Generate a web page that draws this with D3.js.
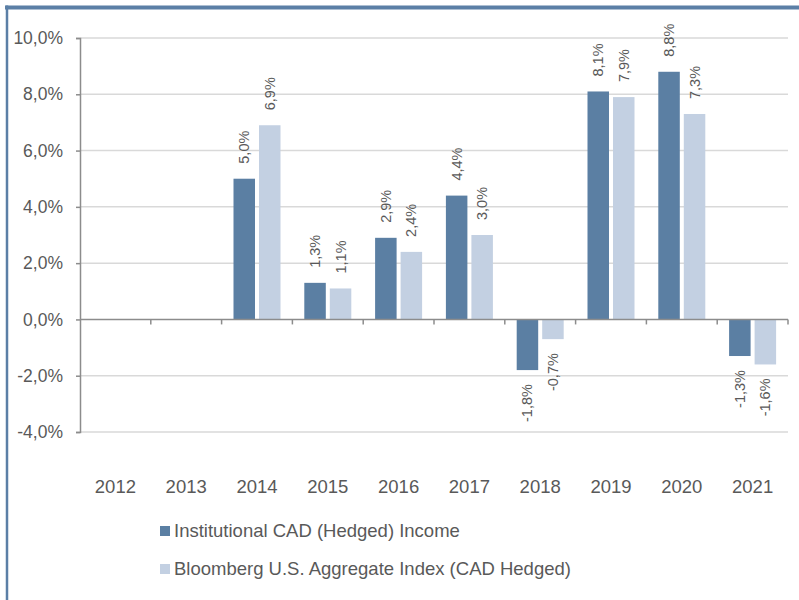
<!DOCTYPE html>
<html lang="en">
<head>
    <meta charset="UTF-8">
    <script src="https://d3js.org/d3.v7.min.js"></script>
    <title>Institutional CAD (Hedged) Income</title>
    <style>
        body {
            margin: 0;
            font-family: "Liberation Sans", Arial, sans-serif;
        }
        svg {
            font-family: "Liberation Sans", Arial, sans-serif;
        }
        .grid line {
            stroke: #d9d9d9;
            stroke-width: 1.5;
        }
        .axis text {
            fill: #595959;
        }
        .val-label {
            font-size: 14.5px;
            fill: #595959;
        }
    </style>
</head>
<body>
    <div id="chart"></div>

    <script>
        // Dimensions
        const width = 799;
        const height = 600;
        const margin = { top: 38, right: 11, bottom: 168, left: 80 };

        // Données
        const annees = ["2012", "2013", "2014", "2015", "2016", "2017", "2018", "2019", "2020", "2021"];
        const fonds = [null, null, 5.0, 1.3, 2.9, 4.4, -1.8, 8.1, 8.8, -1.3];
        const indice = [null, null, 6.9, 1.1, 2.4, 3.0, -0.7, 7.9, 7.3, -1.6];
        const series = ["Institutional CAD (Hedged) Income", "Bloomberg U.S. Aggregate Index (CAD Hedged)"];
        const yTicks = [-4, -2, 0, 2, 4, 6, 8, 10];
        const couleurs = ["#5b7fa3", "#c3d0e2"];

        const svg = d3.select("#chart")
            .append("svg")
            .attr("width", width)
            .attr("height", height);

        // Cadre (haut et gauche)
        svg.append("line")
            .attr("x1", 5).attr("x2", width)
            .attr("y1", 7.5).attr("y2", 7.5)
            .attr("stroke", "#5b7fa6")
            .attr("stroke-width", 4);
        svg.append("line")
            .attr("x1", 7).attr("x2", 7)
            .attr("y1", 5.5).attr("y2", height)
            .attr("stroke", "#5b7fa6")
            .attr("stroke-width", 2.5);

        // Échelles
        const x = d3.scaleBand()
            .domain(annees)
            .range([margin.left, width - margin.right]);

        const y = d3.scaleLinear()
            .domain([-4, 10])
            .range([432, margin.top]);

        const fmt = v => v.toFixed(1).replace(".", ",") + "%";

        // Grille
        svg.append("g")
            .attr("class", "grid")
            .selectAll("line")
            .data(yTicks.filter(d => d !== 0))
            .join("line")
            .attr("x1", margin.left)
            .attr("x2", width - margin.right)
            .attr("y1", d => y(d))
            .attr("y2", d => y(d));

        // Axe Y
        const yAxis = svg.append("g")
            .attr("class", "axis")
            .attr("transform", `translate(${margin.left},0)`)
            .call(d3.axisLeft(y).tickValues(yTicks).tickFormat(fmt).tickSize(4).tickPadding(13));
        yAxis.selectAll("text").style("font-size", "17.5px");
        yAxis.selectAll("line, path").attr("stroke", "#8c8c8c").attr("stroke-width", 1.5);

        // Barres
        const bw = 21.5;
        const donnees = [fonds, indice];
        donnees.forEach((vals, i) => {
            const pts = annees.map((a, j) => ({ annee: a, v: vals[j] })).filter(d => d.v !== null);
            const bx = d => x(d.annee) + x.bandwidth() / 2 + (i === 0 ? -bw - 2 : 2);

            svg.append("g")
                .selectAll("rect")
                .data(pts)
                .join("rect")
                .attr("x", bx)
                .attr("width", bw)
                .attr("y", d => y(Math.max(0, d.v)))
                .attr("height", d => Math.abs(y(d.v) - y(0)))
                .attr("fill", couleurs[i]);

            // Étiquettes verticales
            svg.append("g")
                .selectAll("text")
                .data(pts)
                .join("text")
                .attr("class", "val-label")
                .attr("transform", d => {
                    const cx = bx(d) + bw / 2 + 5;
                    const cy = d.v >= 0 ? y(d.v) - 15 : y(d.v) + 14;
                    return `translate(${cx},${cy}) rotate(-90)`;
                })
                .attr("text-anchor", d => d.v >= 0 ? "start" : "end")
                .text(d => fmt(d.v));
        });

        // Ligne du zéro + graduations aux bornes des catégories
        svg.append("line")
            .attr("x1", margin.left).attr("x2", width - margin.right)
            .attr("y1", y(0)).attr("y2", y(0))
            .attr("stroke", "#8c8c8c")
            .attr("stroke-width", 1.5);
        svg.append("g")
            .selectAll("line")
            .data(annees.slice(1).map(a => x(a)).concat([x.range()[1]]))
            .join("line")
            .attr("x1", d => d).attr("x2", d => d)
            .attr("y1", y(0)).attr("y2", y(0) + 5)
            .attr("stroke", "#8c8c8c")
            .attr("stroke-width", 1.5);

        // Libellés des années
        const xAxis = svg.append("g")
            .attr("class", "axis")
            .attr("transform", `translate(0,490)`)
            .call(d3.axisBottom(x).tickSize(0));
        xAxis.select(".domain").remove();
        xAxis.selectAll("text").style("font-size", "18.5px").attr("dy", "0");

        // Légende
        const legende = svg.append("g")
            .selectAll("g")
            .data(series)
            .join("g")
            .attr("transform", (d, i) => `translate(160,${531 + i * 38})`);
        legende.append("rect")
            .attr("x", 0).attr("y", -5)
            .attr("width", 10).attr("height", 10)
            .attr("fill", (d, i) => couleurs[i]);
        legende.append("text")
            .attr("x", 14)
            .attr("dy", "0.35em")
            .style("font-size", "18.5px")
            .attr("fill", "#595959")
            .text(d => d);
    </script>
</body>
</html>
